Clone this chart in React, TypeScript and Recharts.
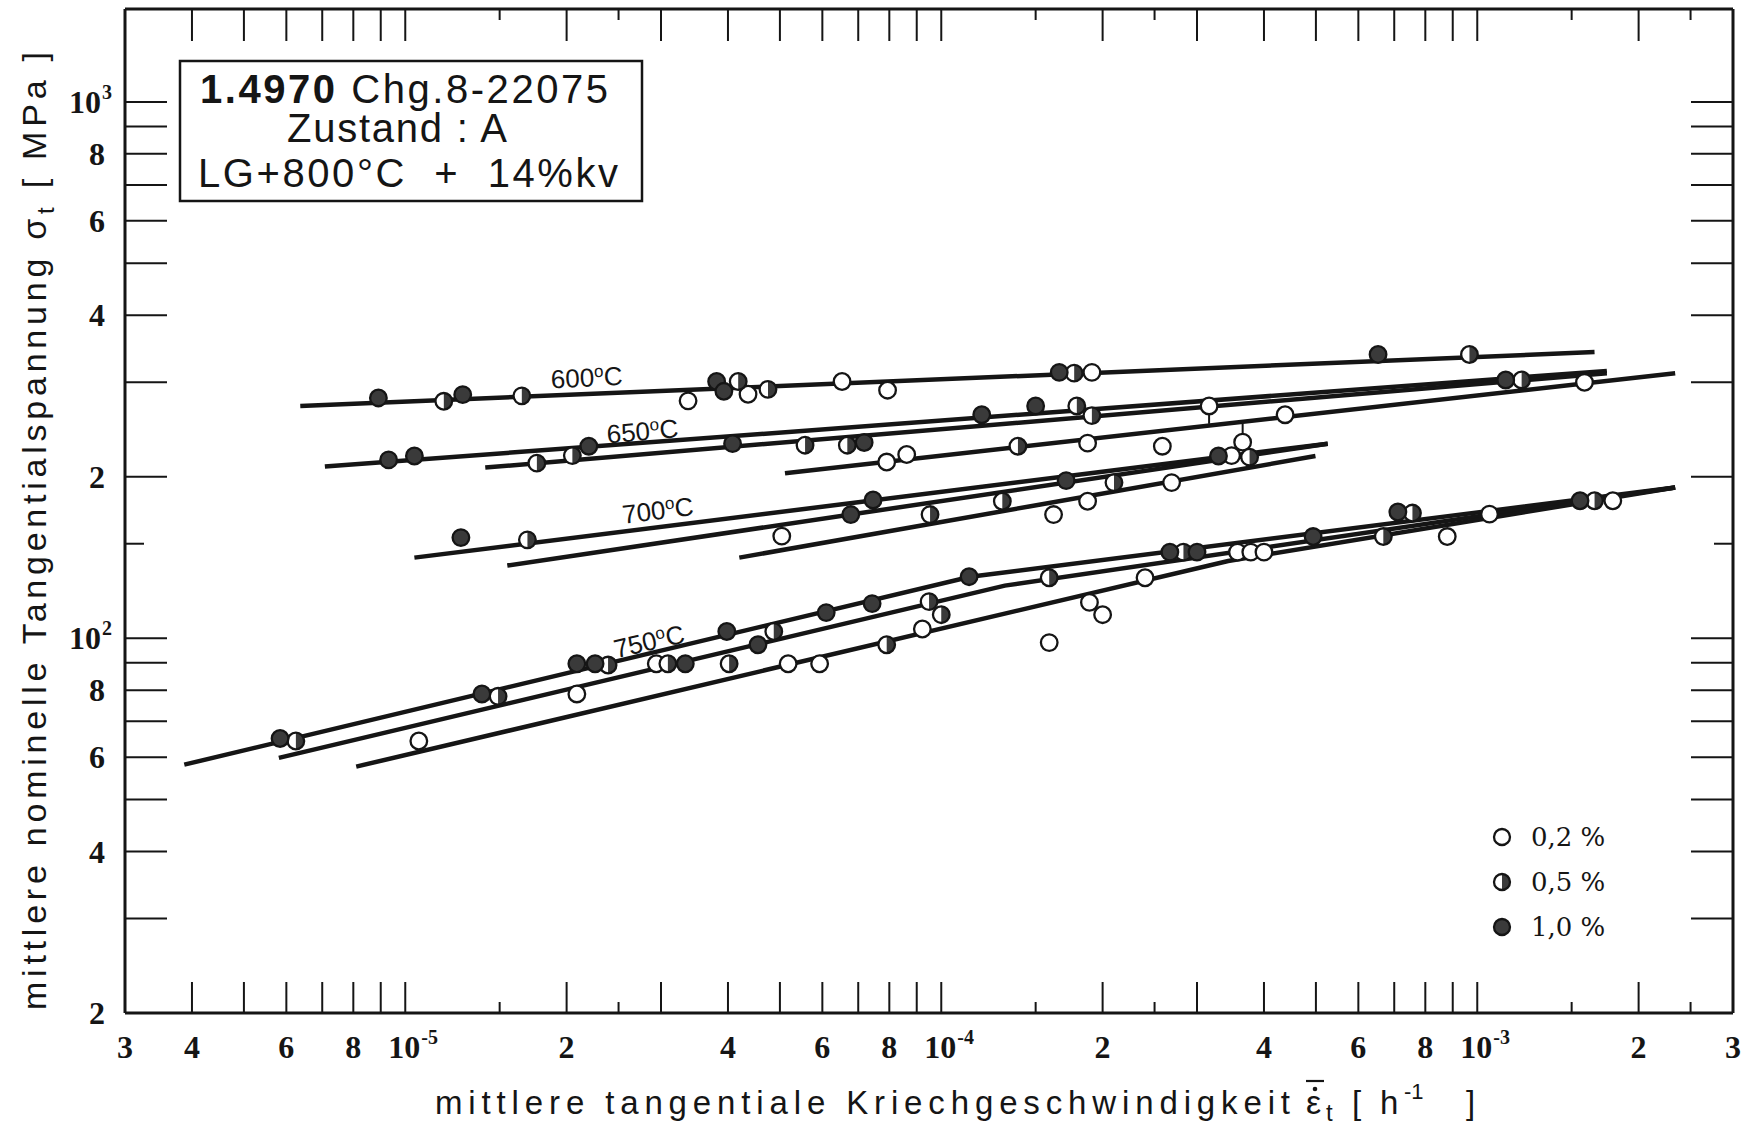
import {
  ComposedChart,
  Scatter,
  XAxis,
  YAxis,
  Legend,
  ReferenceDot,
  ReferenceLine,
} from 'recharts';

type Pt = [number, number];
type Kind = 'open' | 'half' | 'full';

// axis ticks, labels use "a^b" for a superscript
const xTicks = [
  3e-6, 4e-6, 5e-6, 6e-6, 7e-6, 8e-6, 9e-6, 1e-5, 1.5e-5, 2e-5, 2.5e-5, 3e-5,
  4e-5, 5e-5, 6e-5, 7e-5, 8e-5, 9e-5, 1e-4, 1.5e-4, 2e-4, 2.5e-4, 3e-4, 4e-4,
  5e-4, 6e-4, 7e-4, 8e-4, 9e-4, 1e-3, 1.5e-3, 2e-3, 2.5e-3, 3e-3,
];
const xTickLabels = [
  '3', '4', '', '6', '', '8', '', '10^-5', '', '2', '', '',
  '4', '', '6', '', '8', '', '10^-4', '', '2', '', '', '4',
  '', '6', '', '8', '', '10^-3', '', '2', '', '3',
];
const yTicks = [20, 30, 40, 50, 60, 70, 80, 90, 100, 150, 200, 300, 400, 500, 600, 700, 800, 900, 1000];
const yTickLabels = ['2', '', '4', '', '6', '', '8', '', '10^2', '', '2', '', '4', '', '6', '', '8', '', '10^3'];

// measured points [mean creep rate 1/h, mean stress MPa]
const strain02: Pt[] = [
  // 600
  [3.37e-5, 277], [4.36e-5, 285], [6.53e-5, 301], [7.94e-5, 290], [1.91e-4, 313],
  // 650
  [7.91e-5, 213], [8.62e-5, 220], [1.875e-4, 231], [2.585e-4, 228], [3.16e-4, 271],
  [3.65e-4, 232], [4.38e-4, 261], [1.585e-3, 300],
  // 700
  [5.04e-5, 155], [1.62e-4, 170], [1.875e-4, 180], [2.69e-4, 195], [3.48e-4, 219],
  // 750
  [1.06e-5, 64.3], [2.09e-5, 78.7], [2.94e-5, 89.6], [5.18e-5, 89.6], [5.93e-5, 89.6],
  [9.22e-5, 104], [1.59e-4, 98.1], [1.89e-4, 116.6], [2.0e-4, 110.6], [2.4e-4, 129.6],
  [3.57e-4, 144.7], [3.78e-4, 144.7], [4.0e-4, 144.7], [8.79e-4, 154.7], [1.054e-3, 170.3],
  [1.79e-3, 180.4],
];
const strain05: Pt[] = [
  [1.18e-5, 276.5], [1.65e-5, 283], [4.18e-5, 301], [4.75e-5, 291], [1.77e-4, 312], [9.67e-4, 338],
  [1.76e-5, 212], [2.05e-5, 219], [5.57e-5, 229], [6.68e-5, 229], [1.39e-4, 228], [1.79e-4, 271],
  [1.91e-4, 260], [1.21e-3, 303],
  [1.69e-5, 152.5], [9.53e-5, 170], [1.3e-4, 180], [2.1e-4, 195], [3.76e-4, 217.5],
  [6.25e-6, 64.3], [1.49e-5, 77.9], [2.39e-5, 89.1], [3.09e-5, 89.6], [4.02e-5, 89.6],
  [4.87e-5, 102.9], [7.91e-5, 97.2], [9.49e-5, 117], [1.0e-4, 110.6], [1.59e-4, 129.6],
  [2.83e-4, 144.7], [6.68e-4, 154.7], [7.57e-4, 171.1], [1.655e-3, 180.4],
];
const strain10: Pt[] = [
  [8.91e-6, 280.5], [1.28e-5, 284.5], [3.81e-5, 301], [3.93e-5, 288.6], [1.66e-4, 313], [6.53e-4, 338],
  [9.31e-6, 215], [1.04e-5, 218.6], [2.2e-5, 228], [4.08e-5, 230.5], [7.18e-5, 231.6], [1.19e-4, 261],
  [1.5e-4, 271], [1.13e-3, 303],
  [1.27e-5, 154], [6.78e-5, 170], [7.46e-5, 181], [1.71e-4, 196.7], [3.29e-4, 218.6],
  [5.84e-6, 65], [1.39e-5, 78.7], [2.09e-5, 89.6], [2.26e-5, 89.6], [3.33e-5, 89.6],
  [3.98e-5, 102.9], [4.55e-5, 97.2], [6.1e-5, 111.6], [7.43e-5, 116], [1.127e-4, 130.2],
  [2.67e-4, 144.7], [3.0e-4, 144.7], [4.94e-4, 154.7], [7.11e-4, 171.9], [1.555e-3, 180.4],
];

// fitted lines
const line600: Pt[] = [[6.37e-6, 271], [1.655e-3, 341.5]];
const line650a: Pt[] = [[7.08e-6, 209], [1.745e-3, 315]];
const line650b: Pt[] = [[1.41e-5, 208], [1.745e-3, 312]];
const line650c: Pt[] = [[5.11e-5, 203], [2.34e-3, 312]];
const line700a: Pt[] = [[1.04e-5, 141.3], [5.26e-4, 230.5]];
const line700b: Pt[] = [[1.55e-5, 136.6], [5.26e-4, 230.5]];
const line700c: Pt[] = [[4.2e-5, 141.3], [4.99e-4, 218.6]];
const line750a: Pt[] = [[3.87e-6, 58.1], [1.133e-4, 130.2], [2.34e-3, 191]];
const line750b: Pt[] = [[5.81e-6, 59.8], [1.314e-4, 125.3], [2.34e-3, 191]];
const line750c: Pt[] = [[8.1e-6, 57.6], [3.43e-4, 139.3], [2.34e-3, 191]];
const fitLines = [line600, line650a, line650b, line650c, line700a, line700b, line700c, line750a, line750b, line750c];

// short connectors between points and lines
const stems: [Pt, Pt][] = [
  [[3.16e-4, 271], [3.16e-4, 251]],
  [[3.65e-4, 251], [3.65e-4, 232]],
];

const temps = ['600', '650', '700', '750'];
const tempAt: Pt[] = [[2.18e-5, 306], [2.77e-5, 243], [2.96e-5, 173], [2.85e-5, 98.6]];
const tempTilt = [-3, -5, -7, -13];

const strainNames = ['0,2 %', '0,5 %', '1,0 %'];
const strainKinds: Kind[] = ['open', 'half', 'full'];

const W = 1751;
const H = 1127;
const PLOT = { left: 125, right: 1733, top: 9, bottom: 1013 };
const X_DOMAIN: [number, number] = [3e-6, 3e-3];
const Y_DOMAIN: [number, number] = [20, 1490];
const INK = '#151515';
const DARK = '#3a3a3a';
const SERIF = '"Liberation Serif", "DejaVu Serif", serif';
const SANS = '"Liberation Sans", Arial, sans-serif';

const toXY = (pts: Pt[]) => pts.map(([x, y]) => ({ x, y }));
const same = (a: number, b: number) => Math.abs(a - b) / b < 1e-6;
const labelFor = (ticks: number[], labels: string[], v: number) => {
  const i = ticks.findIndex((t) => same(t, v));
  return i < 0 ? '' : labels[i];
};
const mantissa = (v: number) => {
  const e = Math.floor(Math.log10(v) + 1e-9);
  return Math.round((v / 10 ** e) * 10) / 10;
};
const isShort = (v: number) => {
  const m = mantissa(v);
  return m === 1.5 || m === 2.5;
};

const Marker = ({ cx, cy, kind, r = 8.3 }: { cx: number; cy: number; kind: Kind; r?: number }) => {
  if (kind === 'open') return <circle cx={cx} cy={cy} r={r} fill="#fff" stroke={INK} strokeWidth={2.3} />;
  if (kind === 'full') return <circle cx={cx} cy={cy} r={r} fill={DARK} stroke={INK} strokeWidth={2.3} />;
  return (
    <g>
      <circle cx={cx} cy={cy} r={r} fill="#fff" />
      <path d={`M${cx},${cy - r} A${r},${r} 0 0 1 ${cx},${cy + r} Z`} fill={DARK} />
      <circle cx={cx} cy={cy} r={r} fill="none" stroke={INK} strokeWidth={2.3} />
    </g>
  );
};

const TickText = ({ x, y, s, align }: { x: number; y: number; s: string; align: 'center' | 'end' }) => {
  if (!s) return null;
  const [base, sup] = s.split('^');
  const style = { fontFamily: SERIF, fontWeight: 700, fill: INK };
  if (!sup) {
    return (
      <text x={x} y={y} textAnchor={align === 'center' ? 'middle' : 'end'} fontSize={32} style={style}>
        {base}
      </text>
    );
  }
  const split = align === 'center' ? x + 15 : x - 4;
  return (
    <g>
      <text x={split} y={y} textAnchor="end" fontSize={32} style={style}>{base}</text>
      <text x={split + 1} y={y - 14} textAnchor="start" fontSize={20} style={style}>{sup}</text>
    </g>
  );
};

const BottomTick = (p: any) => {
  const v = p.payload.value;
  const edge = same(v, X_DOMAIN[0]) || same(v, X_DOMAIN[1]);
  const len = edge ? 0 : isShort(v) ? 11 : 31;
  return (
    <g>
      {len > 0 && <line x1={p.x} x2={p.x} y1={p.y} y2={p.y - len} stroke={INK} strokeWidth={2} />}
      <TickText x={p.x} y={p.y + 45} s={labelFor(xTicks, xTickLabels, v)} align="center" />
    </g>
  );
};

const TopTick = (p: any) => {
  const v = p.payload.value;
  const edge = same(v, X_DOMAIN[0]) || same(v, X_DOMAIN[1]);
  const len = edge ? 0 : isShort(v) ? 11 : 32;
  return len > 0 ? <line x1={p.x} x2={p.x} y1={p.y} y2={p.y + len} stroke={INK} strokeWidth={2} /> : <g />;
};

const LeftTick = (p: any) => {
  const v = p.payload.value;
  const len = same(v, Y_DOMAIN[0]) ? 0 : isShort(v) ? 19 : 42;
  return (
    <g>
      {len > 0 && <line x1={p.x} x2={p.x + len} y1={p.y} y2={p.y} stroke={INK} strokeWidth={2} />}
      <TickText x={p.x - 20} y={p.y + 11} s={labelFor(yTicks, yTickLabels, v)} align="end" />
    </g>
  );
};

const RightTick = (p: any) => {
  const v = p.payload.value;
  const len = same(v, Y_DOMAIN[0]) ? 0 : isShort(v) ? 19 : 42;
  return len > 0 ? <line x1={p.x} x2={p.x - len} y1={p.y} y2={p.y} stroke={INK} strokeWidth={2} /> : <g />;
};

const XTitle = () => {
  const base = 1114;
  const t = { fontFamily: SANS, fill: INK };
  return (
    <g>
      <text x={435} y={base} fontSize={33} textLength={855} lengthAdjust="spacing" style={t}>
        mittlere tangentiale Kriechgeschwindigkeit
      </text>
      <text x={1306} y={base} fontSize={34} style={t}>ε</text>
      <circle cx={1315} cy={1089} r={2.3} fill={INK} />
      <line x1={1306} x2={1324} y1={1081} y2={1081} stroke={INK} strokeWidth={2.2} />
      <text x={1326} y={base + 7} fontSize={24} style={t}>t</text>
      <text x={1352} y={base} fontSize={33} style={t}>[</text>
      <text x={1380} y={base} fontSize={33} style={t}>h</text>
      <text x={1404} y={base - 15} fontSize={22} style={t}>-1</text>
      <text x={1466} y={base} fontSize={33} style={t}>]</text>
    </g>
  );
};

const YTitle = () => (
  <text
    x={46}
    y={531}
    transform="rotate(-90 46 531)"
    textAnchor="middle"
    fontFamily={SANS}
    fontSize={34}
    textLength={958}
    lengthAdjust="spacing"
    fill={INK}
  >
    mittlere nominelle Tangentialspannung σ
    <tspan dy={8} fontSize={24}>t</tspan>
    <tspan dy={-8}> [ MPa ]</tspan>
  </text>
);

const TempLabel = (i: number) => (p: any) => (
  <text
    x={p.cx}
    y={p.cy + 9}
    transform={`rotate(${tempTilt[i]} ${p.cx} ${p.cy})`}
    textAnchor="middle"
    fontFamily={SANS}
    fontSize={26}
    fill={INK}
  >
    {temps[i]}
    <tspan dy={-9} fontSize={17}>o</tspan>
    <tspan dy={9}>C</tspan>
  </text>
);

const renderLegend = (props: any) => (
  <div style={{ fontFamily: '"DejaVu Serif", serif', fontSize: 26, color: INK }}>
    {(props.payload || [])
      .filter((e: any) => strainNames.includes(e.value))
      .map((e: any) => (
        <div key={e.value} style={{ display: 'flex', alignItems: 'center', height: 45 }}>
          <svg width={24} height={24}>
            <Marker cx={12} cy={12} kind={strainKinds[strainNames.indexOf(e.value)]} r={8} />
          </svg>
          <span style={{ marginLeft: 17 }}>{e.value}</span>
        </div>
      ))}
  </div>
);

const strainSets = [strain02, strain05, strain10];

export default function App() {
  return (
    <div style={{ position: 'absolute', left: 0, top: 0, width: W, height: H, background: '#fff' }}>
      <ComposedChart
        width={W}
        height={H}
        margin={{ top: PLOT.top - 5, right: W - PLOT.right - 5, bottom: H - PLOT.bottom - 60, left: 0 }}
      >
        <XAxis
          xAxisId="b"
          type="number"
          dataKey="x"
          scale="log"
          domain={X_DOMAIN}
          allowDataOverflow
          ticks={xTicks}
          interval={0}
          orientation="bottom"
          height={60}
          tickSize={0}
          tickMargin={0}
          tick={BottomTick}
          axisLine={{ stroke: INK, strokeWidth: 3 }}
          label={XTitle}
        />
        <XAxis
          xAxisId="t"
          type="number"
          dataKey="x"
          scale="log"
          domain={X_DOMAIN}
          allowDataOverflow
          ticks={xTicks}
          interval={0}
          orientation="top"
          height={5}
          tickSize={0}
          tickMargin={0}
          tick={TopTick}
          axisLine={{ stroke: INK, strokeWidth: 3 }}
        />
        <YAxis
          yAxisId="l"
          type="number"
          dataKey="y"
          scale="log"
          domain={Y_DOMAIN}
          allowDataOverflow
          ticks={yTicks}
          interval={0}
          orientation="left"
          width={PLOT.left}
          tickSize={0}
          tickMargin={0}
          tick={LeftTick}
          axisLine={{ stroke: INK, strokeWidth: 3 }}
          label={YTitle}
        />
        <YAxis
          yAxisId="r"
          type="number"
          dataKey="y"
          scale="log"
          domain={Y_DOMAIN}
          allowDataOverflow
          ticks={yTicks}
          interval={0}
          orientation="right"
          width={5}
          tickSize={0}
          tickMargin={0}
          tick={RightTick}
          axisLine={{ stroke: INK, strokeWidth: 3 }}
        />

        {/* keeps the mirror axes bound to data */}
        <Scatter
          xAxisId="t"
          yAxisId="r"
          data={toXY([[X_DOMAIN[0], Y_DOMAIN[0]], [X_DOMAIN[1], Y_DOMAIN[1]]])}
          shape={() => <g />}
          legendType="none"
          isAnimationActive={false}
        />

        {fitLines.map((ln, i) => (
          <Scatter
            key={`fit${i}`}
            xAxisId="b"
            yAxisId="l"
            data={toXY(ln)}
            line={{ stroke: INK, strokeWidth: 4.5 }}
            lineType="joint"
            shape={() => <g />}
            legendType="none"
            isAnimationActive={false}
          />
        ))}

        {stems.map((s, i) => (
          <ReferenceLine
            key={`stem${i}`}
            xAxisId="b"
            yAxisId="l"
            segment={[{ x: s[0][0], y: s[0][1] }, { x: s[1][0], y: s[1][1] }]}
            stroke={INK}
            strokeWidth={2}
          />
        ))}

        {strainSets.map((set, i) => (
          <Scatter
            key={strainNames[i]}
            name={strainNames[i]}
            xAxisId="b"
            yAxisId="l"
            data={toXY(set)}
            shape={(p: any) => <Marker cx={p.cx} cy={p.cy} kind={strainKinds[i]} />}
            isAnimationActive={false}
          />
        ))}

        {temps.map((t, i) => (
          <ReferenceDot
            key={`t${t}`}
            xAxisId="b"
            yAxisId="l"
            x={tempAt[i][0]}
            y={tempAt[i][1]}
            shape={TempLabel(i)}
          />
        ))}

        <Legend
          layout="vertical"
          align="center"
          verticalAlign="middle"
          content={renderLegend}
          wrapperStyle={{ left: 1490, top: 814, width: 180, height: 135 }}
        />
      </ComposedChart>

      <svg
        width={W}
        height={H}
        style={{ position: 'absolute', left: 0, top: 0, pointerEvents: 'none' }}
      >
        <rect x={180} y={61} width={462} height={140} fill="#fff" stroke={INK} strokeWidth={2.5} />
        <text x={200} y={103} fontFamily={SANS} fontSize={40} textLength={408} lengthAdjust="spacing" fill={INK}>
          <tspan fontWeight={700}>1.4970</tspan> Chg.8-22075
        </text>
        <text x={287} y={142} fontFamily={SANS} fontSize={40} textLength={220} lengthAdjust="spacing" fill={INK}>
          Zustand : A
        </text>
        <text x={198} y={187} fontFamily={SANS} fontSize={40} textLength={420} lengthAdjust="spacing" fill={INK} style={{ whiteSpace: 'pre' }}>
          {'LG+800°C  +  14%kv'}
        </text>
      </svg>
    </div>
  );
}
